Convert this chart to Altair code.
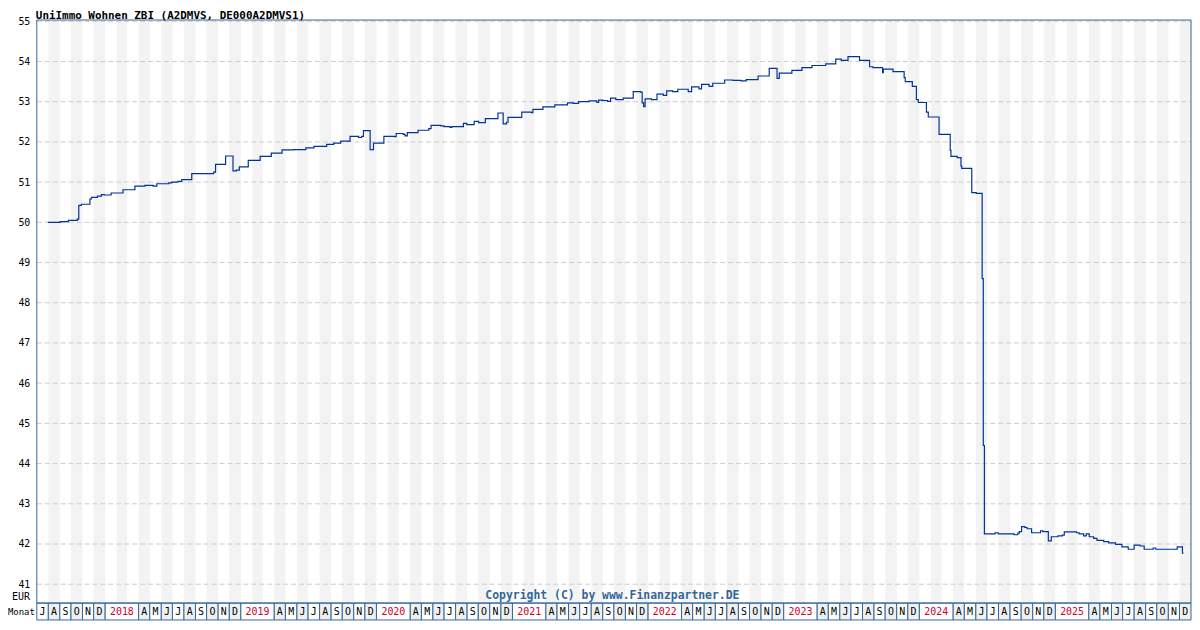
import altair as alt
import pandas as pd

TITLE = "UniImmo Wohnen ZBI (A2DMVS, DE000A2DMVS1)"
COPYRIGHT = "Copyright (C) by www.Finanzpartner.DE"
Y_TICKS = list(range(41, 56))
MONTH_INITIALS = ["J", "F", "M", "A", "M", "J", "J", "A", "S", "O", "N", "D"]
RANGE_START = "2017-07-01"
LAST_MONTH = "2025-12-01"

DATES_2017 = ["2017-07-31", "2017-09-02", "2017-09-24", "2017-10-18", "2017-10-22", "2017-10-29",
              "2017-11-21", "2017-11-25", "2017-12-11", "2017-12-22", "2017-12-30"]
VALUES_2017 = [50.00, 50.02, 50.05, 50.08, 50.42, 50.45, 50.58, 50.62, 50.65, 50.69, 50.68]

DATES_2018 = ["2018-01-17", "2018-02-18", "2018-03-22", "2018-04-18", "2018-05-10", "2018-05-20",
              "2018-06-21", "2018-06-29", "2018-07-16", "2018-07-26", "2018-08-22", "2018-10-20",
              "2018-10-25", "2018-11-21", "2018-12-11", "2018-12-20", "2018-12-28"]
VALUES_2018 = [50.73, 50.81, 50.90, 50.92, 50.90, 50.96, 50.98, 51.00, 51.02, 51.06, 51.21, 51.25,
               51.44, 51.65, 51.28, 51.30, 51.38]

DATES_2019 = ["2019-01-21", "2019-02-22", "2019-03-24", "2019-04-22", "2019-05-24", "2019-06-25",
              "2019-07-17", "2019-08-20", "2019-09-08", "2019-09-27", "2019-10-22", "2019-11-14",
              "2019-11-22", "2019-11-27", "2019-12-15", "2019-12-24"]
VALUES_2019 = [51.54, 51.64, 51.72, 51.80, 51.81, 51.85, 51.89, 51.94, 51.97, 52.02, 52.14, 52.11,
               52.14, 52.28, 51.81, 51.97]

DATES_2020 = ["2020-01-21", "2020-02-18", "2020-02-23", "2020-03-13", "2020-03-18", "2020-03-24",
              "2020-04-22", "2020-05-21", "2020-05-27", "2020-06-22", "2020-07-01", "2020-07-17",
              "2020-07-22", "2020-08-22", "2020-08-31", "2020-09-20", "2020-10-02", "2020-10-20",
              "2020-11-23", "2020-12-07", "2020-12-16", "2020-12-20"]
VALUES_2020 = [52.14, 52.13, 52.21, 52.19, 52.15, 52.23, 52.29, 52.33, 52.41, 52.40, 52.38, 52.36,
               52.38, 52.46, 52.43, 52.51, 52.48, 52.58, 52.72, 52.45, 52.49, 52.61]

DATES_2021 = ["2021-01-26", "2021-02-21", "2021-02-25", "2021-03-24", "2021-04-25", "2021-05-29",
              "2021-06-13", "2021-06-28", "2021-07-26", "2021-08-16", "2021-08-21", "2021-09-01",
              "2021-09-14", "2021-09-22", "2021-10-06", "2021-10-26", "2021-11-22", "2021-12-12",
              "2021-12-16", "2021-12-20", "2021-12-24"]
VALUES_2021 = [52.74, 52.73, 52.81, 52.87, 52.92, 52.97, 52.96, 53.00, 53.02, 52.98, 53.04, 53.03,
               53.01, 53.09, 53.05, 53.09, 53.25, 53.24, 52.97, 52.88, 53.07]

DATES_2022 = ["2022-01-10", "2022-01-25", "2022-02-11", "2022-02-20", "2022-03-08", "2022-03-22",
              "2022-04-19", "2022-04-28", "2022-05-18", "2022-05-25", "2022-06-14", "2022-06-24",
              "2022-07-26", "2022-08-17", "2022-09-08", "2022-09-22", "2022-10-24", "2022-11-23",
              "2022-12-14", "2022-12-20"]
VALUES_2022 = [53.05, 53.19, 53.16, 53.27, 53.25, 53.31, 53.25, 53.37, 53.32, 53.43, 53.38, 53.46,
               53.54, 53.53, 53.52, 53.55, 53.64, 53.83, 53.58, 53.71]

DATES_2023 = ["2023-01-23", "2023-02-19", "2023-03-18", "2023-04-24", "2023-05-21", "2023-06-05",
              "2023-06-23", "2023-07-24", "2023-08-20", "2023-08-29", "2023-09-24", "2023-09-26",
              "2023-10-22", "2023-11-21", "2023-11-24", "2023-12-13", "2023-12-24", "2023-12-29"]
VALUES_2023 = [53.78, 53.85, 53.90, 53.94, 54.06, 54.03, 54.12, 54.03, 53.87, 53.85, 53.72, 53.81,
               53.75, 53.60, 53.50, 53.38, 53.05, 52.98]

DATES_2024 = ["2024-01-20", "2024-01-25", "2024-02-23", "2024-03-24", "2024-03-26", "2024-04-12",
              "2024-04-22", "2024-04-24", "2024-05-21", "2024-06-02", "2024-06-18", "2024-06-21",
              "2024-06-24", "2024-07-23", "2024-07-31", "2024-09-12", "2024-09-22", "2024-09-26",
              "2024-10-02", "2024-10-11", "2024-10-17", "2024-10-29", "2024-11-22", "2024-11-28",
              "2024-12-13", "2024-12-21"]
VALUES_2024 = [52.74, 52.62, 52.19, 51.79, 51.64, 51.61, 51.40, 51.34, 50.74, 50.72, 48.60, 44.45,
               42.25, 42.28, 42.25, 42.23, 42.27, 42.31, 42.43, 42.41, 42.38, 42.28, 42.33, 42.31,
               42.08, 42.18]

DATES_2025 = ["2025-01-08", "2025-01-20", "2025-01-25", "2025-02-27", "2025-03-06", "2025-03-18",
              "2025-03-25", "2025-04-02", "2025-04-14", "2025-04-23", "2025-05-11", "2025-05-24",
              "2025-06-12", "2025-06-29", "2025-07-16", "2025-08-01", "2025-08-17", "2025-08-28",
              "2025-09-21", "2025-09-28", "2025-11-25", "2025-12-09", "2025-12-12"]
VALUES_2025 = [42.20, 42.22, 42.30, 42.28, 42.25, 42.20, 42.25, 42.18, 42.14, 42.09, 42.06, 42.03,
               41.99, 41.93, 41.87, 41.97, 41.95, 41.87, 41.90, 41.87, 41.93, 41.77, 41.77]

# ---------------------------------------------------------------- tables
dates = (DATES_2017 + DATES_2018 + DATES_2019 + DATES_2020 + DATES_2021 + DATES_2022
         + DATES_2023 + DATES_2024 + DATES_2025)
values = (VALUES_2017 + VALUES_2018 + VALUES_2019 + VALUES_2020 + VALUES_2021 + VALUES_2022
          + VALUES_2023 + VALUES_2024 + VALUES_2025)
price = pd.DataFrame({"date": dates, "value": values})

months = pd.date_range(RANGE_START, LAST_MONTH, freq="MS")


def iso(ts):
    return ts.strftime("%Y-%m-%dT%H:%M:%SZ")


stripe_rows = []
cell_rows = []
for m in months:
    nxt = m + pd.offsets.MonthBegin(1)
    if m.month % 2 == 0:
        stripe_rows.append({"start": iso(m), "end": iso(nxt)})
    if m.month in (1, 2, 3):
        if m.month == 1:
            end = m + pd.offsets.MonthBegin(3)
            cell_rows.append({"start": iso(m), "end": iso(end), "mid": iso(m + (end - m) / 2),
                              "label": str(m.year), "fill": "#ffffff", "tcolor": "#cc0033"})
    else:
        cell_rows.append({"start": iso(m), "end": iso(nxt), "mid": iso(m + (nxt - m) / 2),
                          "label": MONTH_INITIALS[m.month - 1],
                          "fill": "#f0f0f0" if m.month % 2 == 0 else "#ffffff",
                          "tcolor": "#000000"})
stripes_df = pd.DataFrame(stripe_rows)
cells_df = pd.DataFrame(cell_rows)
grid_df = pd.DataFrame({"v": Y_TICKS})

# ---------------------------------------------------------------- chart
W, H = 1162, 587
BLUE = "#336699"
MONO = "DejaVu Sans Mono"

xs = alt.Scale(domain=[alt.DateTime(year=2017, month=7, date=1, utc=True),
                       alt.DateTime(year=2026, month=1, date=1, utc=True)])
ys = alt.Scale(domain=[40.531, 55.032], nice=False, zero=False)
yaxis = alt.Axis(values=Y_TICKS, grid=False, ticks=False, tickSize=0, domain=False,
                 labelFont=MONO, labelFontSize=10, labelColor="#000000", labelPadding=7,
                 labelFlush=False, labelOverlap=False, title=None)

stripes = alt.Chart(stripes_df).mark_rect(color="#f3f3f3").encode(
    x=alt.X("start:T", scale=xs, axis=None), x2="end:T",
    y=alt.value(0), y2=alt.value(H))

grid = alt.Chart(grid_df).mark_rule(color="#cccccc", strokeDash=[5, 3], strokeWidth=1).encode(
    y=alt.Y("v:Q", scale=ys, axis=yaxis), x=alt.value(0), x2=alt.value(W))

line = alt.Chart(price).mark_line(interpolate="step-after", color="#003399",
                                  strokeWidth=1.2).encode(
    x=alt.X("date:T", scale=xs, axis=None),
    y=alt.Y("value:Q", scale=ys, axis=yaxis))

cells = alt.Chart(cells_df).mark_rect(stroke=BLUE, strokeWidth=1).encode(
    x=alt.X("start:T", scale=xs, axis=None), x2="end:T",
    y=alt.value(H), y2=alt.value(H + 17),
    fill=alt.Fill("fill:N", scale=None))

cell_text = alt.Chart(cells_df).mark_text(font=MONO, fontSize=10, baseline="alphabetic",
                                          align="center").encode(
    x=alt.X("mid:T", scale=xs, axis=None), y=alt.value(H + 12.5),
    text="label:N", color=alt.Color("tcolor:N", scale=None))

frame = alt.Chart(pd.DataFrame({"k": [0]})).mark_rect(
    filled=False, stroke=BLUE, strokeWidth=1).encode(
    x=alt.value(0), x2=alt.value(W), y=alt.value(0), y2=alt.value(H))


def label(txt, x, y, **kw):
    return alt.Chart(pd.DataFrame({"t": [txt]})).mark_text(
        baseline="alphabetic", **kw).encode(text="t:N", x=alt.value(x), y=alt.value(y))


title = label(TITLE, -1, -1.3, font=MONO, fontSize=11, fontWeight="bold", align="left",
              color="#000000")
copyright_ = label(COPYRIGHT, 579.5, 582.8, font=MONO, fontSize=11.5, fontWeight="bold",
                   align="center", color=BLUE)
eur = label("EUR", -7, 583.5, font=MONO, fontSize=10, align="right", color="#000000")
monat = label("Monat", -29, 599.5, font=MONO, fontSize=9, align="left", color="#000000")

chart = alt.layer(stripes, grid, line, cells, cell_text, frame, title, copyright_, eur,
                  monat).properties(
    width=W, height=H,
    padding={"left": 29, "top": 10, "right": 1, "bottom": 23},
    autosize=alt.AutoSizeParams(type="none"),
    background="#ffffff",
).configure_view(stroke=None)

chart.save("out.html", embed_options={"renderer": "svg", "actions": False})
